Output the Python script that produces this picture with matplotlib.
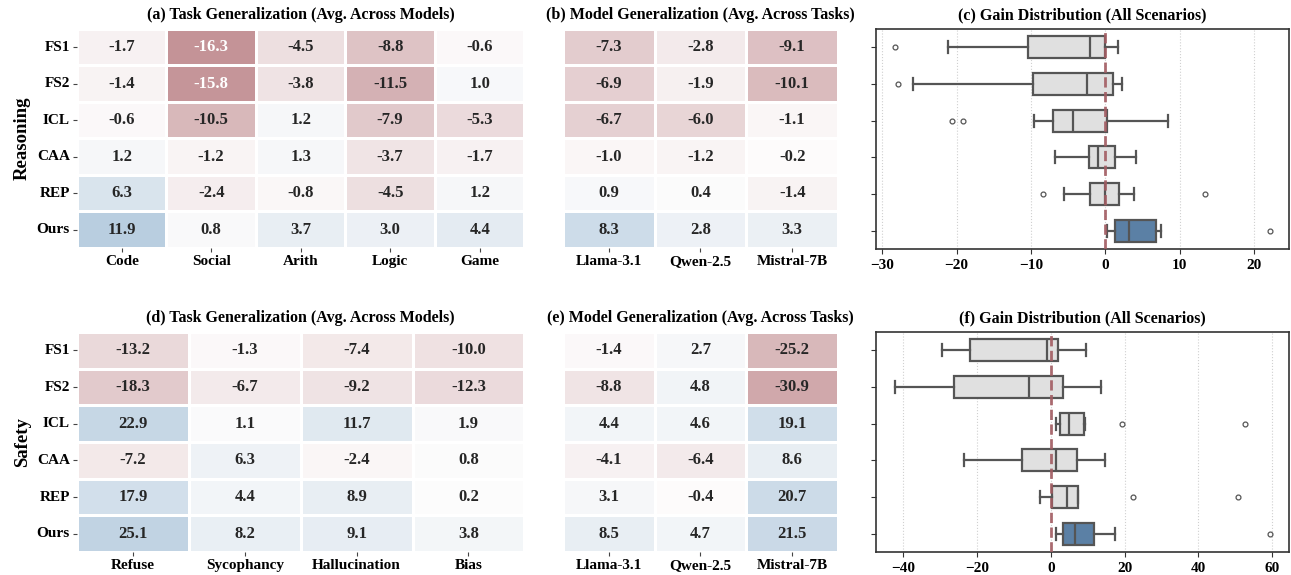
import numpy as np
import matplotlib
matplotlib.use("Agg")
import matplotlib.pyplot as plt
import seaborn as sns
from matplotlib.colors import LinearSegmentedColormap

plt.rcParams['font.family'] = ['Liberation Serif', 'DejaVu Serif']
plt.rcParams['font.weight'] = 'bold'
plt.rcParams['axes.titleweight'] = 'bold'
plt.rcParams['axes.labelweight'] = 'bold'

methods = ['FS1', 'FS2', 'ICL', 'CAA', 'REP', 'Ours']
models = ['Llama-3.1', 'Qwen-2.5', 'Mistral-7B']

# reasoning
reason_tasks = ['Code', 'Social', 'Arith', 'Logic', 'Game']
reason_task_vals = [
    [-1.7, -16.3, -4.5, -8.8, -0.6],
    [-1.4, -15.8, -3.8, -11.5, 1.0],
    [-0.6, -10.5, 1.2, -7.9, -5.3],
    [1.2, -1.2, 1.3, -3.7, -1.7],
    [6.3, -2.4, -0.8, -4.5, 1.2],
    [11.9, 0.8, 3.7, 3.0, 4.4],
]
reason_model_vals = [
    [-7.3, -2.8, -9.1],
    [-6.9, -1.9, -10.1],
    [-6.7, -6.0, -1.1],
    [-1.0, -1.2, -0.2],
    [0.9, 0.4, -1.4],
    [8.3, 2.8, 3.3],
]
# box stats: whislo, q1, med, q3, whishi, fliers
reason_box = [
    (-21.1, -10.4, -2.1, 0.0, 1.7, [-28.3]),
    (-25.8, -9.7, -2.5, 1.1, 2.3, [-27.9]),
    (-9.6, -7.1, -4.4, 0.2, 8.4, [-20.6, -19.1]),
    (-6.8, -2.2, -1.0, 1.3, 4.1, []),
    (-5.6, -2.1, 0.0, 1.8, 3.9, [-8.4, 13.4]),
    (0.2, 1.25, 3.2, 6.8, 7.5, [22.2]),
]

# safety
safety_tasks = ['Refuse', 'Sycophancy', 'Hallucination', 'Bias']
safety_task_vals = [
    [-13.2, -1.3, -7.4, -10.0],
    [-18.3, -6.7, -9.2, -12.3],
    [22.9, 1.1, 11.7, 1.9],
    [-7.2, 6.3, -2.4, 0.8],
    [17.9, 4.4, 8.9, 0.2],
    [25.1, 8.2, 9.1, 3.8],
]
safety_model_vals = [
    [-1.4, 2.7, -25.2],
    [-8.8, 4.8, -30.9],
    [4.4, 4.6, 19.1],
    [-4.1, -6.4, 8.6],
    [3.1, -0.4, 20.7],
    [8.5, 4.7, 21.5],
]
safety_box = [
    (-29.4, -22.0, -1.1, 1.8, 9.6, []),
    (-42.3, -26.3, -5.9, 3.4, 13.7, []),
    (1.4, 2.6, 4.8, 8.9, 9.3, [19.2, 52.6]),
    (-23.6, -7.9, 1.3, 7.0, 14.6, []),
    (-2.9, 0.3, 4.3, 7.3, 7.3, [22.3, 50.7]),
    (1.5, 3.3, 6.6, 11.8, 17.3, [59.5]),
]

cmap = LinearSegmentedColormap.from_list('gain', ['#9a454c', '#fdfcfc', '#5b8fba'])
edge = '#555555'


def heat(ax, vals, cols, vmax, title, ylabel=None):
    sns.heatmap(np.array(vals), ax=ax, cmap=cmap, vmin=-vmax, vmax=vmax, center=0,
                annot=True, fmt='.1f', cbar=False, linewidths=0.8, linecolor='white',
                annot_kws={'fontsize': 12, 'fontweight': 'bold'},
                xticklabels=cols, yticklabels=methods if ylabel else False)
    ax.set_title(title, fontsize=11.5, pad=7)
    ax.set_xticklabels(cols, rotation=0, fontsize=11, fontweight='bold')
    if ylabel:
        ax.set_yticklabels(methods, rotation=0, fontsize=11, fontweight='bold')
        ax.set_ylabel(ylabel, fontsize=13.5, fontweight='bold', labelpad=4)
    ax.tick_params(length=3, width=0.8, color='#444444', pad=2)


def box(ax, stats, title):
    st = []
    for w0, q1, md, q3, w1, fl in stats:
        st.append(dict(whislo=w0, q1=q1, med=md, q3=q3, whishi=w1, fliers=fl))
    ax.grid(axis='x', ls=':', color='#d0d0d0', lw=0.8, zorder=0)
    ax.set_axisbelow(True)
    res = ax.bxp(st, positions=range(len(st)), orientation='horizontal', widths=0.6,
                 patch_artist=True, capwidths=0.32,
                 boxprops=dict(edgecolor=edge, linewidth=1.6),
                 whiskerprops=dict(color=edge, linewidth=1.6),
                 capprops=dict(color=edge, linewidth=1.6),
                 medianprops=dict(color=edge, linewidth=1.6),
                 flierprops=dict(marker='o', markersize=3.5, markerfacecolor='none',
                                 markeredgecolor=edge, markeredgewidth=0.9))
    for i, b in enumerate(res['boxes']):
        b.set_facecolor('#5b80a5' if methods[i] == 'Ours' else '#e0e0e0')
    ax.axvline(0, color='#a25c62', ls='--', lw=2, zorder=5, alpha=0.9)
    ax.set_ylim(len(st) - 0.5, -0.5)
    ax.set_yticks(range(len(st)))
    ax.set_yticklabels([])
    ax.set_title(title, fontsize=11.5, pad=7)
    for s in ax.spines.values():
        s.set_color('#333333')
        s.set_linewidth(1.2)
    ax.tick_params(axis='x', labelsize=11, length=3.5, color='#333333')
    ax.tick_params(axis='y', length=3.5, color='#333333')


fig = plt.figure(figsize=(12.91, 5.75), dpi=100)
ax_a = fig.add_axes([0.0596, 0.5687, 0.3466, 0.381])
ax_b = fig.add_axes([0.4361, 0.5687, 0.2130, 0.381])
ax_c = fig.add_axes([0.6786, 0.5670, 0.3200, 0.3826])
ax_d = fig.add_axes([0.0596, 0.0400, 0.3466, 0.3826])
ax_e = fig.add_axes([0.4361, 0.0400, 0.2130, 0.3826])
ax_f = fig.add_axes([0.6786, 0.0400, 0.3200, 0.3826])

heat(ax_a, reason_task_vals, reason_tasks, 28.3,
     '(a) Task Generalization (Avg. Across Models)', 'Reasoning')
heat(ax_b, reason_model_vals, models, 28.3,
     '(b) Model Generalization (Avg. Across Tasks)')
box(ax_c, reason_box, '(c) Gain Distribution (All Scenarios)')
heat(ax_d, safety_task_vals, safety_tasks, 68,
     '(d) Task Generalization (Avg. Across Models)', 'Safety')
heat(ax_e, safety_model_vals, models, 68,
     '(e) Model Generalization (Avg. Across Tasks)')
box(ax_f, safety_box, '(f) Gain Distribution (All Scenarios)')

fig.savefig('out.png', dpi=100)
